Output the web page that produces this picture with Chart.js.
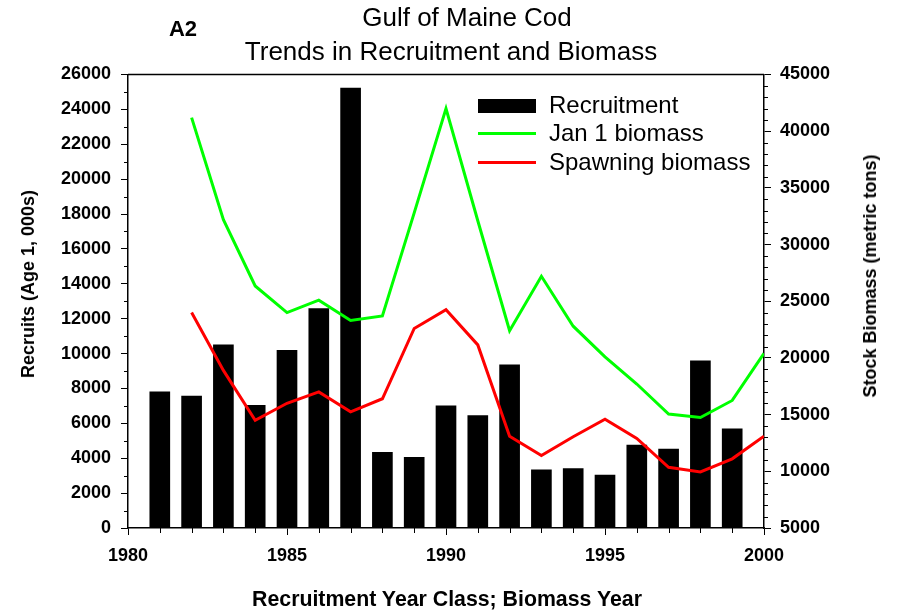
<!DOCTYPE html>
<html>
<head>
<meta charset="utf-8">
<script src="https://cdn.jsdelivr.net/npm/chart.js@4.4.1/dist/chart.umd.min.js"></script>
<style>
  html, body { margin: 0; padding: 0; background: #fff; }
  #wrap { position: relative; width: 897px; height: 613px; font-family: "Liberation Sans", Arial, sans-serif; color: #000; }
  canvas { position: absolute; left: 0; top: 0; }
  .lbl { position: absolute; white-space: nowrap; line-height: 1; transform: translate(-50%, -50%); }
  .vert { transform: translate(-50%, -50%) rotate(-90deg); }
  #legend { position: absolute; left: 478px; top: 91px; font-size: 24px; line-height: 28.3px; }
  #legend .row { position: relative; height: 28.3px; white-space: nowrap; }
  #legend .sw { position: absolute; left: 0; width: 58px; }
  #legend .txt { position: absolute; left: 71px; top: 0; }
</style>
</head>
<body>
<div id="wrap">
  <canvas id="chart" width="897" height="613"></canvas>
  <div class="lbl" style="left:183px; top:29px; font-size:22px; font-weight:bold;">A2</div>
  <div class="lbl" style="left:467px; top:17px; font-size:26px;">Gulf of Maine Cod</div>
  <div class="lbl" style="left:451px; top:51px; font-size:26px;">Trends in Recruitment and Biomass</div>
  <div class="lbl vert" style="left:28px; top:284px; font-size:18px; font-weight:bold;">Recruits (Age 1, 000s)</div>
  <div class="lbl vert" style="left:870px; top:276px; font-size:18px; font-weight:bold;">Stock Biomass (metric tons)</div>
  <div class="lbl" style="left:447px; top:600px; font-size:21.3px; font-weight:bold;">Recruitment Year Class; Biomass Year</div>
  <div id="legend"></div>
</div>
<script>
// Recruitment by year class (thousands of age-1 fish)
const recruitYears = [1981, 1982, 1983, 1984, 1985, 1986, 1987, 1988, 1989, 1990,
                      1991, 1992, 1993, 1994, 1995, 1996, 1997, 1998, 1999];
const recruitment = [7800, 7570, 10500, 7040, 10190, 12580, 25220, 4340, 4050, 7000,
                     6440, 9350, 3330, 3400, 3040, 4760, 4530, 9580, 5680];

// Biomass (metric tons)
const biomassYears = [1982, 1983, 1984, 1985, 1986, 1987, 1988, 1989, 1990, 1991,
                      1992, 1993, 1994, 1995, 1996, 1997, 1998, 1999, 2000];
const jan1Biomass = [41200, 32200, 26350, 24000, 25100, 23300, 23700, 32800, 42000, 32100,
                     22400, 27200, 22800, 20100, 17700, 15050, 14750, 16250, 20400];
const spawningBiomass = [24000, 18900, 14500, 16000, 17000, 15250, 16400, 22600, 24250, 21150,
                         13100, 11400, 13050, 14600, 12900, 10350, 9950, 11100, 13100];

const seriesNames = ["Recruitment", "Jan 1 biomass", "Spawning biomass"];
const seriesColors = ["#000000", "#00ff00", "#ff0000"];

const FONT = "'Liberation Sans', Arial, sans-serif";

// legend (html, sits inside the plot)
const legend = document.getElementById("legend");
seriesNames.forEach((name, i) => {
  const row = document.createElement("div");
  row.className = "row";
  const sw = i === 0
    ? `<span class="sw" style="top:8px;height:14px;background:${seriesColors[i]}"></span>`
    : `<span class="sw" style="top:13px;height:3px;background:${seriesColors[i]}"></span>`;
  row.innerHTML = sw + `<span class="txt">${name}</span>`;
  legend.appendChild(row);
});

// minor ticks + top frame line
const minorTicks = {
  id: "minorTicks",
  afterDraw(chart) {
    const ctx = chart.ctx;
    const area = chart.chartArea;
    const x = chart.scales.x, y = chart.scales.y, y2 = chart.scales.y2;
    ctx.save();
    ctx.strokeStyle = "#000";
    ctx.lineWidth = 1;
    ctx.beginPath();
    for (let v = 1980; v <= 2000; v++) {
      if (v % 5 === 0) continue;
      const px = Math.round(x.getPixelForValue(v)) + 0.5;
      ctx.moveTo(px, area.bottom); ctx.lineTo(px, area.bottom + 5);
    }
    for (let v = 0; v <= 26000; v += 1000) {
      if (v % 2000 === 0) continue;
      const py = Math.round(y.getPixelForValue(v)) + 0.5;
      ctx.moveTo(area.left, py); ctx.lineTo(area.left - 4, py);
    }
    for (let v = 5000; v <= 45000; v += 1000) {
      if (v % 5000 === 0) continue;
      const py = Math.round(y2.getPixelForValue(v)) + 0.5;
      ctx.moveTo(area.right, py); ctx.lineTo(area.right + 4, py);
    }
    ctx.stroke();
    ctx.lineWidth = 1.5;
    ctx.beginPath();
    ctx.moveTo(area.left, area.top); ctx.lineTo(area.right, area.top);
    ctx.stroke();
    ctx.restore();
  }
};

const tickFont = { family: FONT, size: 18, weight: "bold" };

new Chart(document.getElementById("chart"), {
  type: "bar",
  data: {
    datasets: [
      {
        type: "line",
        label: seriesNames[2],
        data: biomassYears.map((yr, i) => ({ x: yr, y: spawningBiomass[i] })),
        yAxisID: "y2",
        borderColor: seriesColors[2],
        borderWidth: 3,
        pointRadius: 0,
        tension: 0,
        order: 1
      },
      {
        type: "line",
        label: seriesNames[1],
        data: biomassYears.map((yr, i) => ({ x: yr, y: jan1Biomass[i] })),
        yAxisID: "y2",
        borderColor: seriesColors[1],
        borderWidth: 3,
        pointRadius: 0,
        tension: 0,
        order: 2
      },
      {
        type: "bar",
        label: seriesNames[0],
        data: recruitYears.map((yr, i) => ({ x: yr, y: recruitment[i] })),
        yAxisID: "y",
        backgroundColor: seriesColors[0],
        barThickness: 20,
        order: 3
      }
    ]
  },
  options: {
    responsive: false,
    animation: false,
    layout: { padding: { top: 74.5, left: 0, right: 0, bottom: 0 } },
    plugins: {
      legend: { display: false },
      tooltip: { enabled: false },
      title: { display: false }
    },
    scales: {
      x: {
        type: "linear",
        min: 1980,
        max: 2000,
        offset: false,
        grid: { display: true, drawOnChartArea: false, offset: false, tickLength: 7, tickColor: "#000", tickWidth: 1 },
        border: { display: true, color: "#000", width: 1.5 },
        ticks: { stepSize: 5, color: "#000", font: tickFont, padding: 10, maxRotation: 0, callback: v => String(v) },
        afterFit: s => { s.height = 85; }
      },
      y: {
        position: "left",
        min: 0,
        max: 26000,
        grid: { drawOnChartArea: false, tickLength: 7, tickColor: "#000", tickWidth: 1 },
        border: { display: true, color: "#000", width: 1.5 },
        ticks: { stepSize: 2000, color: "#000", font: tickFont, padding: 10, callback: v => String(v) },
        afterFit: s => { s.width = 128; }
      },
      y2: {
        position: "right",
        min: 5000,
        max: 45000,
        grid: { drawOnChartArea: false, tickLength: 7, tickColor: "#000", tickWidth: 1 },
        border: { display: true, color: "#000", width: 1.5 },
        ticks: { stepSize: 5000, color: "#000", font: tickFont, padding: 9, callback: v => String(v) },
        afterFit: s => { s.width = 133; }
      }
    }
  },
  plugins: [minorTicks]
});
</script>
</body>
</html>
